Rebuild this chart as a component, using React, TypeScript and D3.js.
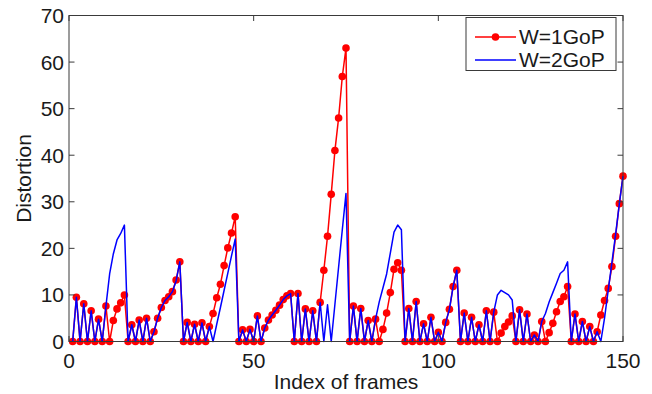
import React, { useEffect, useRef } from 'react';
import * as d3 from 'd3';

// Distortion per frame, frames 1..150
const gop1Values = [
  0, 9.5, 0, 8.1, 0, 6.6, 0, 4.8, 0, 7.6,
  0, 4.5, 7.0, 8.3, 10.0, 0, 3.6, 0, 4.6, 0,
  5.0, 0, 2.1, 5.0, 7.3, 8.8, 9.6, 10.7, 13.2, 17.1,
  0, 4.1, 0, 3.7, 0, 4.0, 0, 3.2, 6.0, 9.4,
  12.3, 16.3, 20.1, 23.3, 26.8, 0, 2.5, 0, 2.6, 0,
  5.5, 0, 2.9, 4.6, 5.7, 6.7, 7.8, 9.0, 9.8, 10.3,
  0, 10.3, 0, 7.0, 0, 6.6, 0, 8.4, 15.3, 22.6,
  31.6, 41.0, 48.0, 56.9, 63.0, 0, 7.6, 0, 7.1, 0,
  4.5, 0, 4.8, 0, 2.6, 6.1, 10.5, 15.5, 16.9, 15.3,
  0, 7.1, 0, 8.6, 0, 3.8, 0, 5.2, 0, 2.0,
  0, 4.1, 6.9, 11.8, 15.3, 0, 6.1, 0, 5.2, 0,
  3.6, 0, 6.6, 0, 6.3, 0, 1.8, 3.2, 4.2, 5.5,
  0, 6.8, 0, 5.9, 0, 1.4, 0, 4.3, 0, 1.9,
  3.9, 6.4, 8.6, 9.6, 11.8, 0, 5.9, 0, 4.3, 0,
  3.2, 0, 2.1, 5.7, 8.8, 11.4, 16.1, 22.6, 29.6, 35.5,
];

const gop2Values = [
  0, 9.5, 0, 8.1, 0, 6.6, 0, 4.8, 0, 7.6,
  14.5, 18.8, 21.8, 23.2, 25.0, 0, 3.6, 0, 4.6, 0,
  5.0, 0, 2.1, 5.0, 7.3, 8.8, 9.6, 10.7, 13.0, 17.1,
  0, 4.1, 0, 3.7, 0, 4.0, 0, 3.2, 0, 3.7,
  7.3, 11.0, 14.7, 18.4, 22.0, 0, 2.5, 0, 2.6, 0,
  5.5, 0, 2.9, 4.6, 5.7, 6.7, 7.8, 9.0, 9.8, 10.3,
  0, 10.3, 0, 7.0, 0, 6.6, 0, 8.4, 0, 7.9,
  0, 8.0, 16.0, 24.0, 31.8, 0, 7.6, 0, 7.1, 0,
  4.5, 0, 4.8, 8.5, 11.5, 14.5, 19.0, 23.5, 25.0, 24.0,
  0, 7.1, 0, 8.6, 0, 3.8, 0, 5.2, 0, 2.0,
  0, 4.1, 6.9, 11.8, 15.3, 0, 6.1, 0, 5.2, 0,
  3.6, 0, 6.6, 0, 6.3, 10.0, 11.0, 10.5, 10.0, 8.9,
  0, 6.8, 0, 5.9, 0, 1.4, 0, 4.3, 6.0, 8.5,
  10.5, 12.5, 14.6, 15.3, 17.1, 0, 5.9, 0, 4.3, 0,
  3.2, 0, 2.1, 0, 5.0, 11.0, 17.0, 23.0, 29.5, 35.5,
];

const xTicks = [0, 50, 100, 150];
const yTicks = [0, 10, 20, 30, 40, 50, 60, 70];
const seriesNames = ['W=1GoP', 'W=2GoP'];

const App = () => {
  const svgRef = useRef<SVGSVGElement>(null);

  useEffect(() => {
    const width = 652;
    const height = 394;
    const margin = { top: 15.5, right: 29, bottom: 52.5, left: 69 };
    const font = '"Liberation Sans", Arial, Helvetica, sans-serif';
    const axisColor = '#3a3a3a';
    const textColor = '#1a1a1a';

    const svg = d3.select(svgRef.current);
    svg.selectAll('*').remove();
    svg.attr('width', width).attr('height', height);

    const x = d3.scaleLinear().domain([0, 150]).range([margin.left, width - margin.right]);
    const y = d3.scaleLinear().domain([0, 70]).range([height - margin.bottom, margin.top]);

    const [x0, x1] = x.range();
    const [y0, y1] = y.range();

    svg.append('rect')
      .attr('x', 0).attr('y', 0).attr('width', width).attr('height', height)
      .attr('fill', '#fff');

    const frames = d3.range(1, gop1Values.length + 1);
    const red = frames.map((f, i) => ({ f, v: gop1Values[i] }));
    const blue = frames.map((f, i) => ({ f, v: gop2Values[i] }));

    const line = d3.line<{ f: number; v: number }>()
      .x(d => x(d.f))
      .y(d => y(d.v));

    // W=1GoP
    svg.append('path')
      .datum(red)
      .attr('fill', 'none')
      .attr('stroke', '#ff0000')
      .attr('stroke-width', 1.5)
      .attr('stroke-linejoin', 'round')
      .attr('d', line);

    svg.append('g')
      .selectAll('circle')
      .data(red)
      .enter().append('circle')
      .attr('cx', d => x(d.f))
      .attr('cy', d => y(d.v))
      .attr('r', 3.8)
      .attr('fill', '#ff0000');

    // W=2GoP
    svg.append('path')
      .datum(blue)
      .attr('fill', 'none')
      .attr('stroke', '#0000ff')
      .attr('stroke-width', 1.5)
      .attr('stroke-linejoin', 'round')
      .attr('d', line);

    // box
    svg.append('rect')
      .attr('x', x0).attr('y', y1)
      .attr('width', x1 - x0).attr('height', y0 - y1)
      .attr('fill', 'none')
      .attr('stroke', axisColor)
      .attr('stroke-width', 1);

    const tickLen = 5.5;
    const ticks = svg.append('g').attr('stroke', axisColor).attr('stroke-width', 1);

    yTicks.forEach(t => {
      ticks.append('line').attr('x1', x0).attr('x2', x0 + tickLen).attr('y1', y(t)).attr('y2', y(t));
      ticks.append('line').attr('x1', x1).attr('x2', x1 - tickLen).attr('y1', y(t)).attr('y2', y(t));
    });
    xTicks.forEach(t => {
      ticks.append('line').attr('x1', x(t)).attr('x2', x(t)).attr('y1', y0).attr('y2', y0 - tickLen);
      ticks.append('line').attr('x1', x(t)).attr('x2', x(t)).attr('y1', y1).attr('y2', y1 + tickLen);
    });

    svg.append('g')
      .selectAll('text')
      .data(yTicks)
      .enter().append('text')
      .attr('x', x0 - 5)
      .attr('y', d => y(d) + 7.5)
      .attr('text-anchor', 'end')
      .attr('font-family', font)
      .attr('font-size', 21)
      .attr('fill', textColor)
      .text(d => d);

    svg.append('g')
      .selectAll('text')
      .data(xTicks)
      .enter().append('text')
      .attr('x', d => x(d))
      .attr('y', y0 + 26)
      .attr('text-anchor', 'middle')
      .attr('font-family', font)
      .attr('font-size', 21)
      .attr('fill', textColor)
      .text(d => d);

    svg.append('text')
      .attr('x', (x0 + x1) / 2)
      .attr('y', 389)
      .attr('text-anchor', 'middle')
      .attr('font-family', font)
      .attr('font-size', 21)
      .attr('fill', textColor)
      .text('Index of frames');

    svg.append('text')
      .attr('transform', `translate(30.5,${(y0 + y1) / 2}) rotate(-90)`)
      .attr('text-anchor', 'middle')
      .attr('font-family', font)
      .attr('font-size', 21)
      .attr('fill', textColor)
      .text('Distortion');

    // legend
    const legend = svg.append('g');
    legend.append('rect')
      .attr('x', 466).attr('y', 17.5)
      .attr('width', 150).attr('height', 53)
      .attr('fill', '#fff')
      .attr('stroke', axisColor)
      .attr('stroke-width', 1);

    const legendColors = ['#ff0000', '#0000ff'];
    seriesNames.forEach((name, i) => {
      const ly = 37 + i * 23;
      legend.append('line')
        .attr('x1', 475).attr('x2', 516)
        .attr('y1', ly).attr('y2', ly)
        .attr('stroke', legendColors[i])
        .attr('stroke-width', 1.5);
      if (i === 0) {
        legend.append('circle')
          .attr('cx', 495.5).attr('cy', ly).attr('r', 3.8)
          .attr('fill', legendColors[i]);
      }
      legend.append('text')
        .attr('x', 519)
        .attr('y', ly + 7)
        .attr('font-family', font)
        .attr('font-size', 21)
        .attr('fill', textColor)
        .text(name);
    });
  }, []);

  return (
    <div style={{ position: 'absolute', left: 0, top: 0 }}>
      <svg ref={svgRef} style={{ display: 'block' }}></svg>
    </div>
  );
};

export default App;
